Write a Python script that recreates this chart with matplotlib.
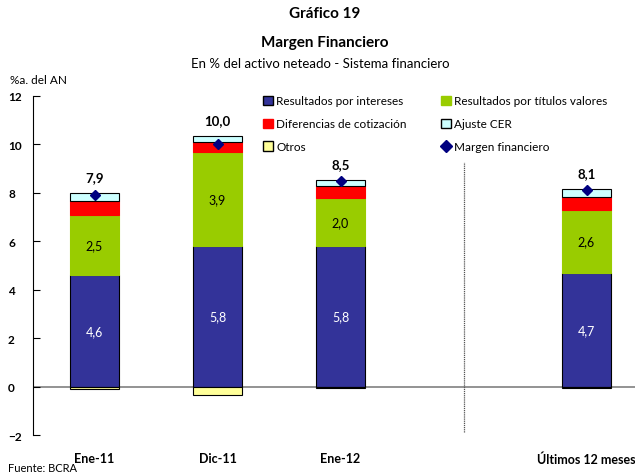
import numpy as np
import matplotlib.pyplot as plt
from matplotlib.patches import Patch
from matplotlib.lines import Line2D

plt.rcParams['font.family'] = ['Lato', 'DejaVu Sans']

# Datos
periodos = ['Ene-11', 'Dic-11', 'Ene-12', 'Últimos 12 meses']
posiciones = [0, 1, 2, 4]
intereses = [4.6, 5.8, 5.8, 4.7]
titulos = [2.5, 3.9, 2.0, 2.6]
diferencias = [0.55, 0.4, 0.5, 0.55]
cer = [0.35, 0.25, 0.25, 0.3]
otros = [-0.07, -0.35, -0.05, -0.03]
margen = [7.9, 10.0, 8.5, 8.1]

c_int = '#333399'
c_tit = '#99CC00'
c_dif = '#FF0000'
c_cer = '#CCFFFF'
c_otr = '#FFFF99'
c_mar = '#000080'

fig = plt.figure(figsize=(6.35, 4.77), dpi=100)
ax = fig.add_axes([0.052, 0.085, 0.9685, 0.712])

x = np.array(posiciones, dtype=float)
w = 0.4
ax.axhline(0, color='#808080', lw=1.2, zorder=1)

base = np.zeros(4)
for vals, col in [(intereses, c_int), (titulos, c_tit), (diferencias, c_dif), (cer, c_cer)]:
    ec = col if col in (c_tit, c_dif) else 'black'
    ax.bar(x, vals, w, bottom=base, color=col, edgecolor=ec, lw=0.8, zorder=2)
    base = base + np.array(vals)
ax.bar(x, otros, w, color=c_otr, edgecolor='black', lw=0.8, zorder=2)
ax.plot(x, margen, 'D', color=c_mar, ms=5.5, zorder=4, ls='none')

# etiquetas
for i in range(4):
    ax.text(x[i], intereses[i] / 2, f'{intereses[i]:.1f}'.replace('.', ','),
            ha='center', va='center', color='white', fontsize=9)
    ax.text(x[i], intereses[i] + titulos[i] / 2, f'{titulos[i]:.1f}'.replace('.', ','),
            ha='center', va='center', color='black', fontsize=9)
    ax.annotate(f'{margen[i]:.1f}'.replace('.', ','), (x[i], base[i]),
                xytext=(0, 7), textcoords='offset points', ha='center', va='bottom',
                fontsize=9.5, fontweight='bold')

ax.plot([3, 3], [-1.86, 9.28], color='#555555', lw=0.9, ls=(0, (1, 0.7)), zorder=1)

ax.set_xlim(-0.5, 4.5)
ax.set_ylim(-2, 12)
ax.set_yticks(range(-2, 13, 2))
ax.set_xticks(posiciones)
ax.set_xticklabels(periodos, fontweight='bold', fontsize=9)
ax.tick_params(axis='x', length=0, pad=12)
ax.tick_params(axis='y', direction='in', length=5, labelsize=8.5, pad=18)
for lbl in ax.get_yticklabels():
    lbl.set_fontweight('bold')
    lbl.set_horizontalalignment('left')
for s in ['top', 'right', 'bottom']:
    ax.spines[s].set_visible(False)
ax.spines['left'].set_linewidth(0.8)

handles = [
    Patch(facecolor=c_int, edgecolor='black', label='Resultados por intereses'),
    Patch(facecolor=c_dif, edgecolor=c_dif, label='Diferencias de cotización'),
    Patch(facecolor=c_otr, edgecolor='black', label='Otros'),
    Patch(facecolor=c_tit, edgecolor=c_tit, label='Resultados por títulos valores'),
    Patch(facecolor=c_cer, edgecolor='black', label='Ajuste CER'),
    Line2D([], [], marker='D', color=c_mar, ls='none', ms=6, label='Margen financiero'),
]
fig.legend(handles=handles, ncol=2, loc='upper left', bbox_to_anchor=(0.398, 0.82),
           frameon=False, fontsize=8.5, handlelength=0.8, handleheight=0.8,
           handletextpad=0.3, columnspacing=2.9, labelspacing=1.0)

fig.text(0.512, 0.97, 'Gráfico 19', ha='center', va='center', fontsize=11, fontweight='bold')
fig.text(0.512, 0.91, 'Margen Financiero', ha='center', va='center', fontsize=11, fontweight='bold')
fig.text(0.505, 0.866, 'En % del activo neteado - Sistema financiero', ha='center', va='center', fontsize=9.5)
fig.text(0.016, 0.832, '%a. del AN', ha='left', va='center', fontsize=8.5)
fig.text(0.013, 0.018, 'Fuente: BCRA', ha='left', va='center', fontsize=8)

fig.savefig('out.png', dpi=100)
